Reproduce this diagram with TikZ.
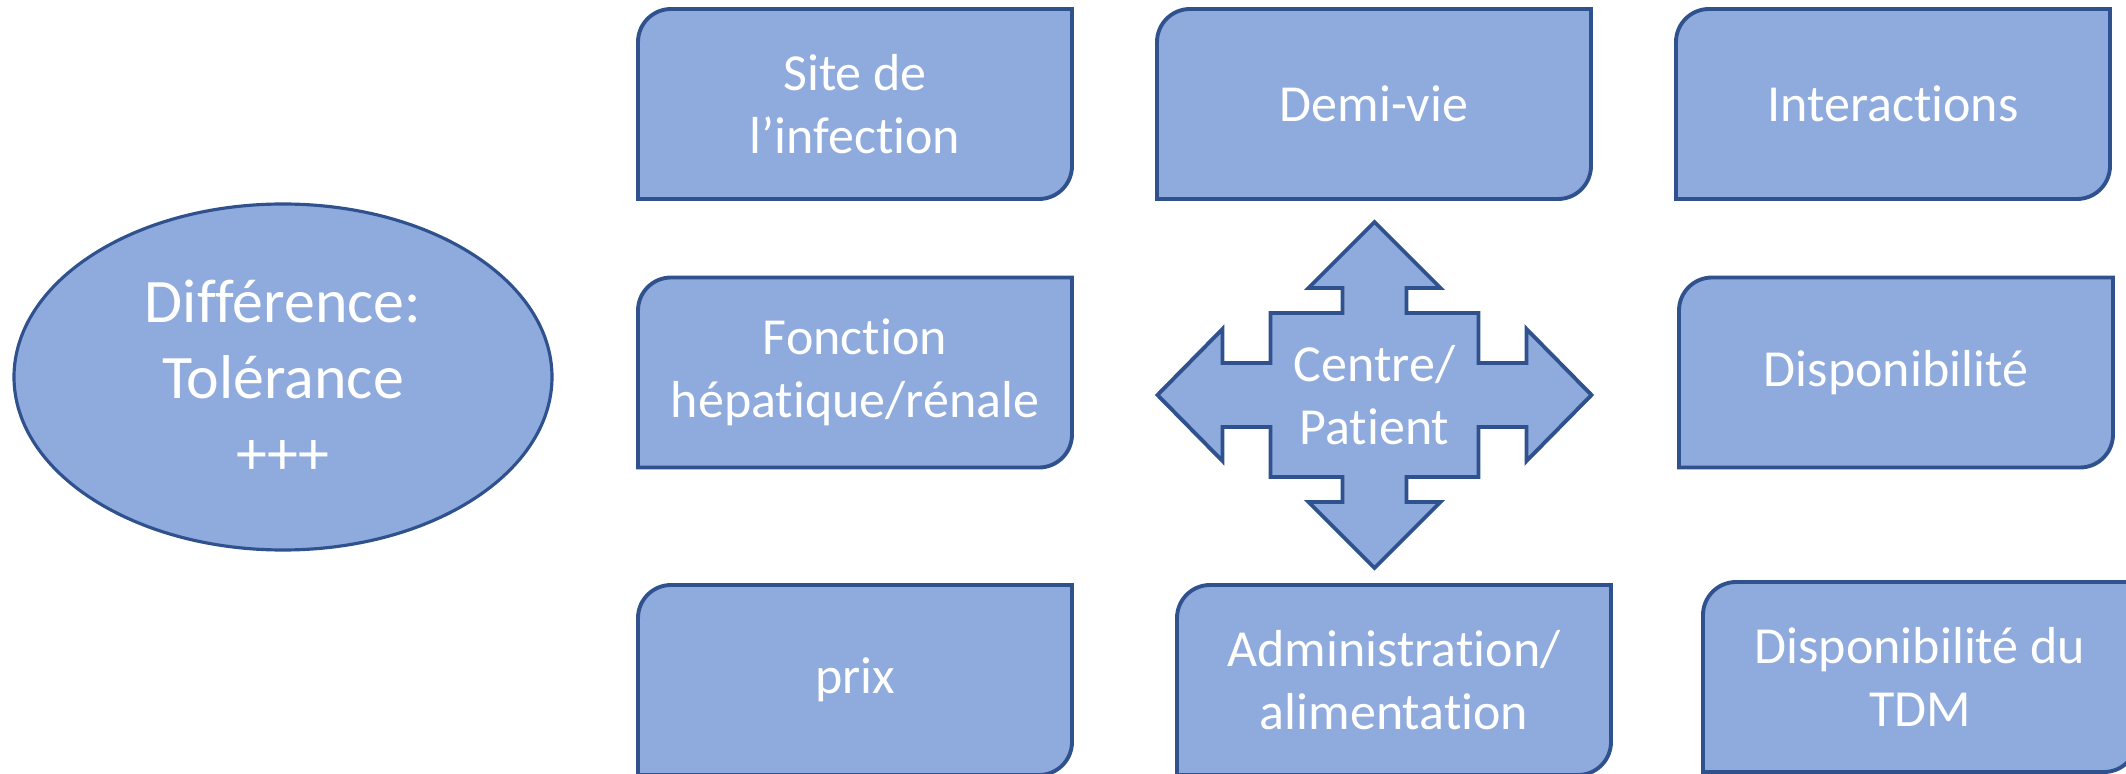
\documentclass[tikz,border=0pt]{standalone}
\usepackage{fontspec}
\setmainfont{Carlito}[Ligatures={TeX,NoCommon}]
\usepackage{tikz}
\usetikzlibrary{backgrounds,positioning,shapes.geometric}
\definecolor{boxfill}{HTML}{8FAADC}
\definecolor{boxline}{HTML}{2F528F}
\tikzset{
  carte/.style={minimum width=4.34cm,minimum height=1.9cm,outer sep=0pt,inner sep=0pt,
    align=center,text=white,font=\fontsize{14.8}{18}\selectfont},
  forme/.style={fill=boxfill,draw=boxline,line width=1.1pt}
}

\begin{document}
\begin{tikzpicture}
%\draw[help lines] (0,0) grid (22,8);
\useasboundingbox (0,0) rectangle (21.26,7.73);
%
% ellipse on the left
\node[ellipse,forme,line width=0.9pt,minimum width=5.38cm,minimum height=3.46cm,inner sep=0pt,
  text=white,align=center,font=\fontsize{17.6}{21.6}\selectfont] (diff) at (2.83,3.96)
  {Différence:\\Tolérance\\+++};
%
% the boxes
\node[carte] (site) at (8.55,6.69) {Site de\\l’infection};
\node[carte] (demivie) at (13.74,6.69) {Demi-vie};
\node[carte] (interact) at (18.93,6.69) {Interactions};
\node[carte] (fonction) at (8.55,4.005) {Fonction\\hépatique/rénale};
\node[carte] (dispo) at (18.96,4.005) {Disponibilité};
\node[carte] (prix) at (8.55,0.93) {prix};
\node[carte] (admin) at (13.94,0.93) {Administration/\\alimentation};
\node[carte] (tdm) at (19.20,0.96) {Disponibilité du\\TDM};
%
\begin{scope}[on background layer]
\foreach \n in {site,demivie,interact,fonction,dispo,prix,admin,tdm}
\draw[forme] (\n.north east) -- ([xshift=3.3mm]\n.north west)
  arc[start angle=90,end angle=180,radius=3.3mm] -- (\n.south west)
  -- ([xshift=-3.3mm]\n.south east) arc[start angle=270,end angle=360,radius=3.3mm] -- cycle;
\end{scope}
%
% four-way arrow in the middle
\begin{scope}[shift={(13.745,3.78)}]
\draw[forme] (0,1.73)--(0.66,1.07)--(0.32,1.07)--(0.32,0.82)--(1.04,0.82)--(1.04,0.32)
  --(1.52,0.32)--(1.52,0.66)--(2.17,0)--(1.52,-0.66)--(1.52,-0.32)--(1.04,-0.32)
  --(1.04,-0.82)--(0.32,-0.82)--(0.32,-1.07)--(0.66,-1.07)--(0,-1.73)--(-0.66,-1.07)
  --(-0.32,-1.07)--(-0.32,-0.82)--(-1.04,-0.82)--(-1.04,-0.32)--(-1.52,-0.32)
  --(-1.52,-0.66)--(-2.17,0)--(-1.52,0.66)--(-1.52,0.32)--(-1.04,0.32)--(-1.04,0.82)
  --(-0.32,0.82)--(-0.32,1.07)--(-0.66,1.07)--cycle;
\node[text=white,align=center,font=\fontsize{14.8}{18}\selectfont] (centre) at (0,0) {Centre/\\Patient};
\end{scope}
%
\end{tikzpicture}
\end{document}
